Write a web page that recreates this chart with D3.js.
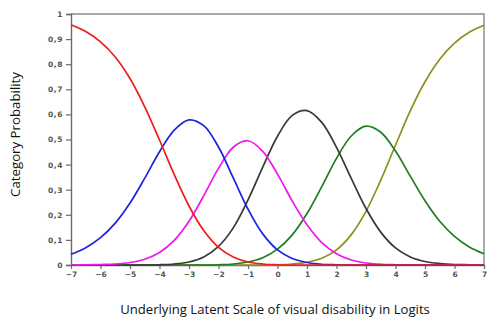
<!DOCTYPE html>
<html>
<head>
<meta charset="utf-8">
<script src="https://cdn.jsdelivr.net/npm/d3@7"></script>
<style>
  html, body { margin: 0; padding: 0; background: #fff; }
  svg { display: block; }
</style>
</head>
<body>
<svg id="chart" width="487" height="320"></svg>
<script>
// Logit positions at which category probabilities are tabulated
const logits = [-7, -6.5, -6, -5.5, -5, -4.5, -4, -3.5, -3, -2.5, -2, -1.5, -1, -0.5,
                0, 0.5, 1, 1.5, 2, 2.5, 3, 3.5, 4, 4.5, 5, 5.5, 6, 6.5, 7];

// Probability of each response category along the latent scale
const cat0 = [0.957, 0.930, 0.889, 0.829, 0.743, 0.630, 0.498, 0.360, 0.235, 0.137, 0.070, 0.032, 0.012, 0.004,
              0.001, 0.000, 0.000, 0.000, 0.000, 0.000, 0.000, 0.000, 0.000, 0.000, 0.000, 0.000, 0.000, 0.000, 0.000];
const cat1 = [0.043, 0.069, 0.109, 0.167, 0.247, 0.346, 0.451, 0.537, 0.578, 0.555, 0.470, 0.347, 0.223, 0.124,
              0.060, 0.026, 0.010, 0.003, 0.001, 0.000, 0.000, 0.000, 0.000, 0.000, 0.000, 0.000, 0.000, 0.000, 0.000];
const cat2 = [0.000, 0.001, 0.002, 0.004, 0.010, 0.023, 0.050, 0.098, 0.174, 0.276, 0.385, 0.469, 0.495, 0.453,
              0.362, 0.255, 0.160, 0.089, 0.045, 0.020, 0.008, 0.003, 0.001, 0.000, 0.000, 0.000, 0.000, 0.000, 0.000];
const cat3 = [0.000, 0.000, 0.000, 0.000, 0.000, 0.000, 0.001, 0.004, 0.012, 0.032, 0.074, 0.148, 0.259, 0.390,
              0.513, 0.596, 0.615, 0.568, 0.469, 0.345, 0.225, 0.131, 0.068, 0.032, 0.014, 0.006, 0.002, 0.001, 0.000];
const cat4 = [0.000, 0.000, 0.000, 0.000, 0.000, 0.000, 0.000, 0.000, 0.000, 0.000, 0.001, 0.004, 0.012, 0.029,
              0.063, 0.120, 0.205, 0.312, 0.425, 0.514, 0.553, 0.529, 0.454, 0.354, 0.256, 0.174, 0.114, 0.072, 0.045];
const cat5 = [0.000, 0.000, 0.000, 0.000, 0.000, 0.000, 0.000, 0.000, 0.000, 0.000, 0.000, 0.000, 0.000, 0.000,
              0.001, 0.004, 0.011, 0.027, 0.060, 0.121, 0.214, 0.338, 0.477, 0.614, 0.730, 0.820, 0.884, 0.927, 0.955];

const seriesColors = ["#f01c1c", "#1c22e0", "#f016ee", "#383838", "#1f7d22", "#8f8f1c"];

// Axis tick values and labels
const xTicks = [-7, -6, -5, -4, -3, -2, -1, 0, 1, 2, 3, 4, 5, 6, 7];
const yTicks = [0, 0.1, 0.2, 0.3, 0.4, 0.5, 0.6, 0.7, 0.8, 0.9, 1];
const yTickLabels = ["0", "0,1", "0,2", "0,3", "0,4", "0,5", "0,6", "0,7", "0,8", "0,9", "1"];

const xTitle = "Underlying Latent Scale of visual disability in Logits";
const yTitle = "Category Probability";

const W = 487, H = 320;
const margin = { top: 14, right: 3, bottom: 55, left: 71 };

const svg = d3.select("#chart");

const x = d3.scaleLinear().domain([-7, 7]).range([margin.left, W - margin.right]);
const y = d3.scaleLinear().domain([0, 1]).range([H - margin.bottom, margin.top]);

// Frame on the top and right
svg.append("path")
  .attr("d", `M${x(-7)},${y(1)}H${x(7)}V${y(0)}`)
  .attr("fill", "none")
  .attr("stroke", "#8a8a8a")
  .attr("stroke-width", 1.4);

// Y axis
const yAxis = svg.append("g")
  .attr("transform", `translate(${x(-7)},0)`)
  .call(d3.axisLeft(y).tickValues(yTicks)
    .tickFormat((d, i) => yTickLabels[i]).tickSize(5).tickPadding(3));

// X axis
const xAxis = svg.append("g")
  .attr("transform", `translate(0,${y(0)})`)
  .call(d3.axisBottom(x).tickValues(xTicks).tickFormat(d3.format("d")).tickSizeInner(4).tickSizeOuter(0).tickPadding(3));

[yAxis, xAxis].forEach(g => {
  g.select(".domain").attr("stroke", "#6a6a6a").attr("stroke-width", 1.4);
  g.selectAll(".tick line").attr("stroke", "#6a6a6a").attr("stroke-width", 1.2);
  g.selectAll(".tick text")
    .attr("fill", "#555")
    .attr("font-family", "'DejaVu Sans', sans-serif")
    .attr("font-size", 7.5)
    .attr("font-weight", "bold");
});
yAxis.selectAll(".tick text").attr("letter-spacing", 0.6);

// Category probability curves, last category drawn first
const series = [cat0, cat1, cat2, cat3, cat4, cat5];
const line = d3.line()
  .x((d, i) => x(logits[i]))
  .y(d => y(d))
  .curve(d3.curveCatmullRom.alpha(0.5));

svg.append("g")
  .selectAll("path")
  .data(series.map((s, i) => ({ s, c: seriesColors[i] })).reverse())
  .join("path")
  .attr("d", d => line(d.s))
  .attr("fill", "none")
  .attr("stroke", d => d.c)
  .attr("stroke-width", 1.7)
  .attr("stroke-linejoin", "round");

// Axis titles
const titleFont = "'Open Sans', 'Liberation Sans', sans-serif";

function fitText(sel, width) {
  let size = 13;
  sel.attr("font-size", size);
  const w = sel.node().getComputedTextLength();
  sel.attr("font-size", (size * width / w).toFixed(2));
}

const xt = svg.append("text")
  .attr("x", 275)
  .attr("y", 314)
  .attr("text-anchor", "middle")
  .attr("font-family", titleFont)
  .attr("fill", "#111")
  .text(xTitle);
fitText(xt, 310);

const yt = svg.append("text")
  .attr("transform", "translate(20,134.5) rotate(-90)")
  .attr("text-anchor", "middle")
  .attr("font-family", titleFont)
  .attr("fill", "#111")
  .text(yTitle);
fitText(yt, 125);
</script>
</body>
</html>
